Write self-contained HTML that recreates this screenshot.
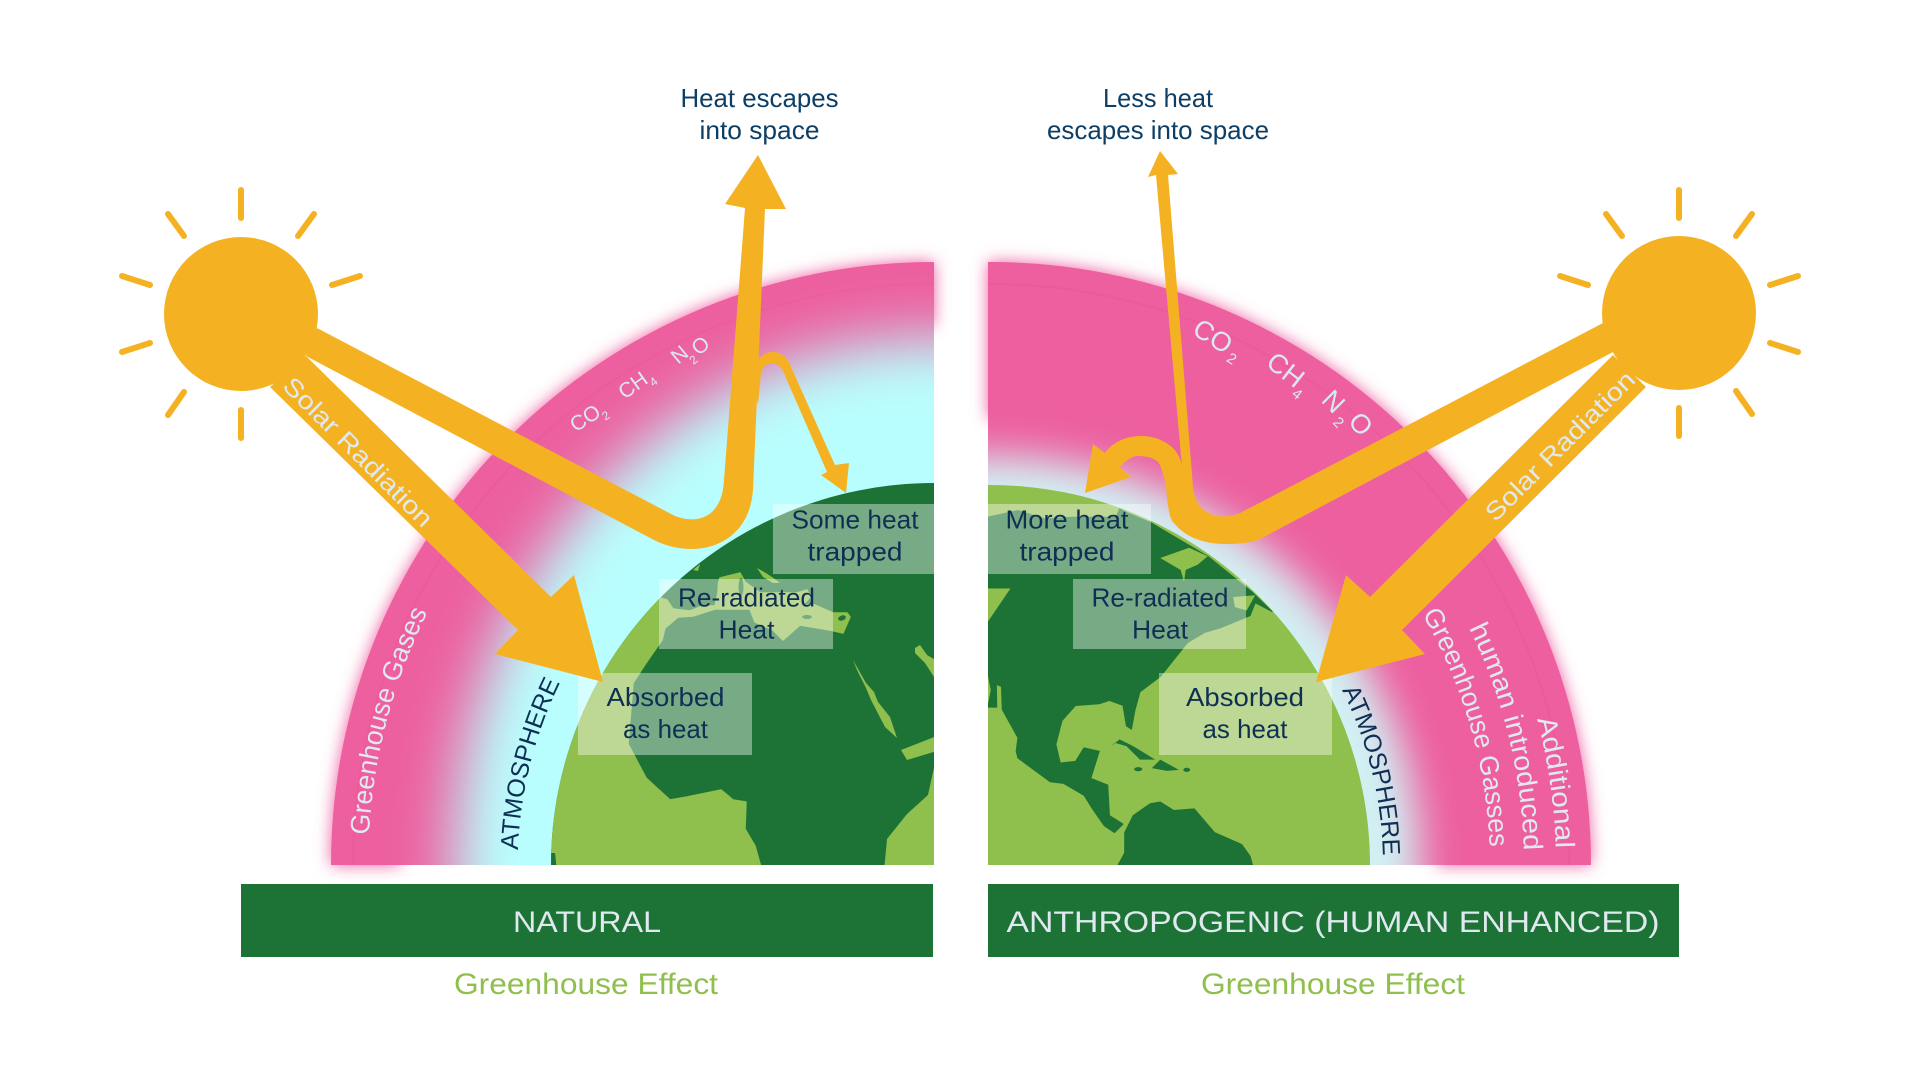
<!DOCTYPE html>
<html><head><meta charset="utf-8"><title>Greenhouse Effect</title>
<style>html,body{margin:0;padding:0;background:#fff;width:1921px;height:1080px;overflow:hidden}svg{display:block}text{font-family:"Liberation Sans",sans-serif}</style></head>
<body>
<svg xmlns="http://www.w3.org/2000/svg" width="1921" height="1080" viewBox="0 0 1921 1080">
<defs>
<clipPath id="cl"><rect x="0" y="0" width="934" height="865"/></clipPath>
<clipPath id="cr"><rect x="988" y="0" width="800" height="865"/></clipPath>
<clipPath id="el"><path d="M551,865 A383,382 0 0 1 934,483 V865 Z"/></clipPath>
<clipPath id="er"><path d="M988,485 H990 A380,380 0 0 1 1370,865 H988 Z"/></clipPath>
<filter id="g" x="-20%" y="-20%" width="140%" height="140%"><feGaussianBlur stdDeviation="8"/></filter>
<filter id="b1" x="-30%" y="-30%" width="160%" height="160%"><feGaussianBlur stdDeviation="30"/></filter>
<filter id="b2" x="-30%" y="-30%" width="160%" height="160%"><feGaussianBlur stdDeviation="20"/></filter>
<path id="pGG" d="M369,835 A565,565 0 0 1 456,562"/>
<path id="pAL" d="M518,850 A414,414 0 0 1 591,630"/>
<path id="pAR" d="M1342,690 A393,393 0 0 1 1383,865"/>
<path id="pA1" d="M1537,719 A566,566 0 0 1 1556,865"/>
<path id="pA2" d="M1469,628 A534,534 0 0 1 1524,865"/>
<path id="pA3" d="M1422,614 A500,500 0 0 1 1490,865"/>
</defs>
<rect width="1921" height="1080" fill="#fff"/>

<!-- LEFT DOME -->
<path d="M331,865 A603,603 0 0 1 934,262 V325 A535,535 0 0 0 400,865 Z" fill="#ee5fa0" filter="url(#g)"/>
<g clip-path="url(#cl)">
<path d="M331,865 A603,603 0 0 1 934,262 V865 Z" fill="#ed5f9f"/>
<path d="M353,865 A581,581 0 0 1 934,284" fill="none" stroke="#f0468f" stroke-width="2" opacity=".15"/>
<path d="M454,865 A480,527 0 0 1 934,338 H1300 V1050 H454 Z" fill="#b9fefe" filter="url(#b1)"/>
<path d="M551,865 A383,382 0 0 1 934,483 V865 Z" fill="#1d7335"/>
<g clip-path="url(#el)">
<path fill="#8fbf4d" stroke="#8fbf4d" stroke-width="1.5" stroke-linejoin="round" d="M545,870 L551,865 A383,382 0 0 1 660,598 L667,600 L673,609 L690,611 L703,606 L715,606 L718,593 L718.5,583 L720,578 L740,573 L745,582 L760,593 L780,593 L797,593 L807,590 L810,597 L803,605 L815,605 L833,613 L847,613 L850,617 L843,633 L830,630 L800,625 L783,640 L773,630 L755,622 L750,609 L715,609 L693,616 L678,617 L665,628 L662,640 L646,663 L633,683 L628,744 L646,778 L670,800 L687,797 L721,790 L733,800 L746,802 L745,829 L755,846 L762,871 Z"/>
<ellipse cx="741" cy="587" rx="2.5" ry="9" fill="#1d7335"/>
<ellipse cx="842" cy="618" rx="4" ry="2.5" transform="rotate(-20 842 618)" fill="#1d7335"/>
<ellipse cx="807" cy="617" rx="5" ry="2" fill="#1d7335"/>
<g fill="#8fbf4d">
<path d="M693,570 L700,564 L698,571 Z"/>
<path d="M757,568 Q770,575 780,583 L773,583 L763,577 Z"/>
<path d="M853,660 L866,683 L874,692 L878,702 L890,717 L897,738 L885,727 L871,700 L866,688 L857,670 Z"/>
<path d="M915,648 L920,645 L927,655 L939,662 L939,677 L934,677 L925,663 L915,653 Z"/>
<path d="M901,750 L937,736 L937,751 L907,760 Z"/>
<path d="M884,871 L887,839 L907,814 L928,795 L937,754 L937,871 Z"/>
</g>
<path d="M549,853 L555,853 L557,871 L548,871 Z" fill="#1d7335"/>
</g>
</g>

<!-- RIGHT DOME -->
<path d="M988,262 H990 A601,603 0 0 1 1591,865 H1437 A447,447 0 0 0 990,418 H988 Z" fill="#ee5fa0" filter="url(#g)"/>
<g clip-path="url(#cr)">
<path d="M988,262 H990 A601,603 0 0 1 1591,865 H988 Z" fill="#ed5f9f"/>
<path d="M988,284 H990 A579,581 0 0 1 1569,865" fill="none" stroke="#f0468f" stroke-width="2" opacity=".2"/>
<path d="M990,456 A430,409 0 0 1 1420,865 V1050 H600 V456 Z" fill="#d2f0f3" filter="url(#b2)"/>
<path d="M988,485 H990 A380,380 0 0 1 1370,865 H988 Z" fill="#8fbf4d"/>
<g clip-path="url(#er)">
<g transform="translate(984,480) scale(.339)">
<path fill="#1d7335" stroke="#1d7335" stroke-width="3" stroke-linejoin="round" d="M10,110 L100,90 L180,115 L260,110 L390,110 L400,85 L430,100 L490,125 L660,225 L790,330 L850,388 L800,362 L785,400 L700,435 L650,450 L600,480 L560,530 L520,580 L460,625 L445,680 L435,735 L420,725 L410,665 L370,650 L340,660 L270,665 L230,710 L212,780 L225,835 L270,830 L295,790 L340,800 L315,880 L365,900 L370,990 L410,1015 L385,1040 L355,1020 L320,970 L295,930 L235,895 L195,890 L100,820 L95,800 L100,760 L50,670 L10,670 Z"/>
<path fill="#1d7335" stroke="#1d7335" stroke-width="3" stroke-linejoin="round" d="M385,1155 L415,1100 L415,1040 L440,990 L490,955 L520,950 L560,975 L620,970 L680,1040 L760,1075 L785,1110 L800,1165 Z"/>
<path fill="#1d7335" d="M375,785 L400,765 L440,785 L505,825 L460,825 L420,785 L385,775 Z"/>
<path fill="#1d7335" d="M495,850 L520,825 L575,855 L540,858 Z"/>
<ellipse fill="#1d7335" cx="455" cy="853" rx="12" ry="6"/>
<ellipse fill="#1d7335" cx="598" cy="855" rx="10" ry="6"/>
<g fill="#8fbf4d">
<path d="M520,230 L605,200 L660,225 L630,250 L595,265 L590,300 L580,265 L545,245 Z"/>
<path d="M735,345 L800,340 L775,385 L740,375 Z"/>
<path d="M10,320 L78,320 L10,420 Z"/>
<path d="M38,605 L50,610 L55,750 L40,730 Z"/>
<path d="M10,570 L20,620 L10,670 Z"/>
</g>
</g>
</g>
</g>

<!-- BOXES -->
<g fill="#fff" fill-opacity=".4">
<rect x="773" y="504" width="161" height="70"/>
<rect x="659" y="579" width="174" height="70"/>
<rect x="578" y="673" width="174" height="82"/>
<rect x="988" y="504" width="163" height="70"/>
<rect x="1073" y="579" width="173" height="70"/>
<rect x="1159" y="673" width="173" height="82"/>
</g>

<!-- ARROWS -->
<g fill="#f4b223">
<path d="M306,356 L551,597 L574,575 L603,682 L495,654 L518,630 L270,387 Z"/>
<path d="M1613,355 L1370,597 L1346,575 L1316,682 L1425,654 L1402,630 L1646,387 Z"/>
<path d="M317,328 L673,515 C692,524 722,522 724,480 L745,208 L725,204 L758,155 L786,209 L765,209 L753,490 C750,532 720,549 692,549 C676,549 664,545 654,540 L306,356 Z"/>
<path d="M753,378 C755,358 765,352 772,352 C782,352 788,358 791,367 L835,465 L849,463 L846,493 L821,475 L827,472 L786,378 C782,366 776,363 772,363 C766,363 762,368 761,373 L758,405 Z"/>
<path d="M1603,323 L1242,512 C1228,520 1196,520 1193,487 L1168,175 L1178,174 L1160,151 L1148,177 L1156,175 L1182,467 C1180,447 1160,436 1141,436 C1125,436 1112,443 1105,453 L1093,444 L1085,493 L1131,477 L1120,467 C1126,460 1132,456 1138,456 C1150,456 1158,460 1160,465 C1164,475 1165,482 1166,487 C1168,510 1170,520 1174,523 C1186,538 1205,544 1226,544 C1240,544 1252,543 1262,538 L1613,352 Z"/>
<circle cx="241" cy="314" r="77"/>
<circle cx="1679" cy="313" r="77"/>
</g>
<g stroke="#f4b223" stroke-width="6" stroke-linecap="round" fill="none">
<path d="M241,190V218M241,410V438M168,214L184,236M314,214L298,236M122,276L150,285M360,276L332,285M122,352L150,343M184,392L168,415"/>
<path d="M1679,190V218M1679,408V436M1606,214L1622,236M1752,214L1736,236M1560,276L1588,285M1798,276L1770,285M1770,343L1798,352M1736,391L1752,414"/>
</g>

<!-- BANNERS -->
<rect x="241" y="884" width="692" height="73" fill="#1d7335"/>
<rect x="988" y="884" width="691" height="73" fill="#1d7335"/>
<g fill="#dfe9ef" font-size="30" text-anchor="middle">
<text x="587" y="932" textLength="148" lengthAdjust="spacingAndGlyphs">NATURAL</text>
<text x="1333" y="932" textLength="653" lengthAdjust="spacingAndGlyphs">ANTHROPOGENIC (HUMAN ENHANCED)</text>
</g>
<g fill="#8fbf4d" font-size="30" text-anchor="middle">
<text x="586" y="994" textLength="264" lengthAdjust="spacingAndGlyphs">Greenhouse Effect</text>
<text x="1333" y="994" textLength="264" lengthAdjust="spacingAndGlyphs">Greenhouse Effect</text>
</g>

<!-- TOP LABELS -->
<g fill="#0d3f66" font-size="26" text-anchor="middle">
<text x="759.5" y="107" textLength="158" lengthAdjust="spacingAndGlyphs">Heat escapes</text>
<text x="759.5" y="139" textLength="120" lengthAdjust="spacingAndGlyphs">into space</text>
<text x="1158" y="107" textLength="110" lengthAdjust="spacingAndGlyphs">Less heat</text>
<text x="1158" y="139" textLength="222" lengthAdjust="spacingAndGlyphs">escapes into space</text>
</g>

<!-- BOX LABELS -->
<g fill="#0f2f55" font-size="26" text-anchor="middle">
<text x="855" y="528.5" textLength="127" lengthAdjust="spacingAndGlyphs">Some heat</text>
<text x="855" y="560.5" textLength="95" lengthAdjust="spacingAndGlyphs">trapped</text>
<text x="746.5" y="606.5" textLength="137" lengthAdjust="spacingAndGlyphs">Re-radiated</text>
<text x="746.5" y="638.5" textLength="56" lengthAdjust="spacingAndGlyphs">Heat</text>
<text x="665.5" y="706" textLength="118" lengthAdjust="spacingAndGlyphs">Absorbed</text>
<text x="665.5" y="738" textLength="85" lengthAdjust="spacingAndGlyphs">as heat</text>
<text x="1067" y="528.5" textLength="123" lengthAdjust="spacingAndGlyphs">More heat</text>
<text x="1067" y="560.5" textLength="95" lengthAdjust="spacingAndGlyphs">trapped</text>
<text x="1160" y="606.5" textLength="137" lengthAdjust="spacingAndGlyphs">Re-radiated</text>
<text x="1160" y="638.5" textLength="56" lengthAdjust="spacingAndGlyphs">Heat</text>
<text x="1245" y="706" textLength="118" lengthAdjust="spacingAndGlyphs">Absorbed</text>
<text x="1245" y="738" textLength="85" lengthAdjust="spacingAndGlyphs">as heat</text>
</g>

<!-- SOLAR LABELS -->
<g fill="#dfe9ef" font-size="25" text-anchor="middle">
<text transform="translate(352,458) rotate(45)" textLength="200" lengthAdjust="spacingAndGlyphs">Solar Radiation</text>
<text transform="translate(1566,452) rotate(-45)" textLength="200" lengthAdjust="spacingAndGlyphs">Solar Radiation</text>
</g>

<!-- ARC LABELS -->
<g fill="#dfe9ef" font-size="27">
<text><textPath href="#pGG" textLength="232" lengthAdjust="spacingAndGlyphs">Greenhouse Gases</textPath></text>
<text><textPath href="#pA1" textLength="131" lengthAdjust="spacingAndGlyphs">Additional</textPath></text>
<text><textPath href="#pA2" textLength="231" lengthAdjust="spacingAndGlyphs">human introduced</textPath></text>
<text><textPath href="#pA3" textLength="245" lengthAdjust="spacingAndGlyphs">Greenhouse Gasses</textPath></text>
</g>
<g fill="#0f2f55" font-size="25">
<text><textPath href="#pAL" textLength="174" lengthAdjust="spacingAndGlyphs">ATMOSPHERE</textPath></text>
<text><textPath href="#pAR" textLength="172" lengthAdjust="spacingAndGlyphs">ATMOSPHERE</textPath></text>
</g>

<!-- GAS FORMULAS -->
<g fill="#dbe9ef" text-anchor="middle">
<g font-size="21">
<text transform="translate(589,424) rotate(-33)">CO</text>
<text transform="translate(637,391) rotate(-36)">CH</text>
<text transform="translate(684,360) rotate(-40)">N</text>
<text transform="translate(705,351) rotate(-40)">O</text>
</g>
<g font-size="12">
<text transform="translate(608,419) rotate(-33)">2</text>
<text transform="translate(656,385) rotate(-36)">4</text>
<text transform="translate(696,363) rotate(-40)">2</text>
</g>
<g font-size="27">
<text transform="translate(1208,344) rotate(32)">CO</text>
<text transform="translate(1280,377) rotate(38)">CH</text>
<text transform="translate(1327,408) rotate(45)">N</text>
<text transform="translate(1354,430) rotate(48)">O</text>
</g>
<g font-size="15">
<text transform="translate(1229,363) rotate(32)">2</text>
<text transform="translate(1294,398) rotate(38)">4</text>
<text transform="translate(1335,426) rotate(45)">2</text>
</g>
</g>
</svg>
</body></html>
